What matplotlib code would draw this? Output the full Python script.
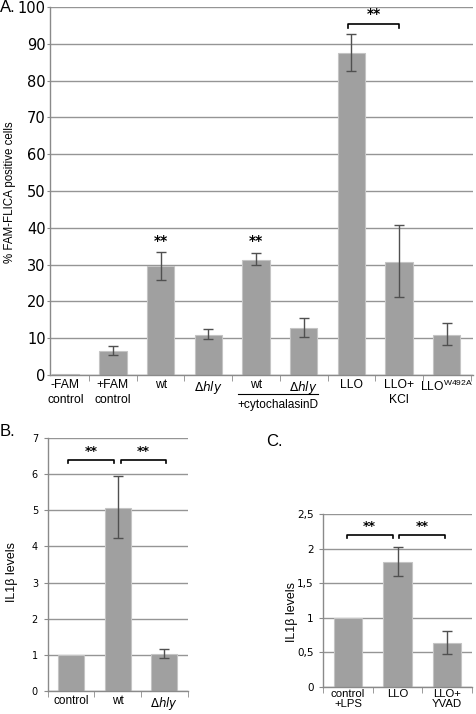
import matplotlib
matplotlib.use('Agg')
import matplotlib.pyplot as plt

# ---- data ----
a_labels = ['-FAM\ncontrol', '+FAM\ncontrol', 'wt', r'$\Delta\mathit{hly}$', 'wt',
            r'$\Delta\mathit{hly}$', 'LLO', 'LLO+\nKCl', r'LLO$^{\mathregular{W492A}}$']
a_values = [0.35, 6.5, 29.5, 11.0, 31.3, 12.7, 87.5, 30.7, 10.9]
a_err_lo = [0.0, 1.1, 3.7, 1.2, 1.5, 2.5, 4.8, 9.5, 2.8]
a_err_hi = [0.0, 1.4, 4.0, 1.5, 1.9, 2.8, 5.1, 10.0, 3.2]

b_labels = ['control', 'wt', r'$\Delta\mathit{hly}$']
b_values = [1.0, 5.06, 1.01]
b_err_lo = [0.0, 0.83, 0.11]
b_err_hi = [0.0, 0.89, 0.16]

c_labels = ['control\n+LPS', 'LLO', 'LLO+\nYVAD']
c_values = [1.0, 1.81, 0.64]
c_err_lo = [0.0, 0.2, 0.17]
c_err_hi = [0.0, 0.21, 0.17]
c_ticklabels = ['0', '0,5', '1', '1,5', '2', '2,5']

BAR = '#a0a0a0'
EDGE = '#c4c4c4'
GRID = '#959595'
ERR = '#505050'
SANS = 'Liberation Sans'


def style_axes(ax, n, ymax, tick_fs, ylen, ypad):
    ax.set_xlim(-0.5, n - 0.5)
    ax.set_ylim(0, ymax)
    ax.set_axisbelow(True)
    ax.yaxis.grid(True, color=GRID, lw=1)
    for s in ['top', 'right']:
        ax.spines[s].set_visible(False)
    for s in ['left', 'bottom']:
        ax.spines[s].set_color('#8a8a8a')
        ax.spines[s].set_linewidth(1)
    ax.set_xticks([i + 0.5 for i in range(-1, n)], minor=True)
    ax.tick_params(axis='x', which='minor', length=4, color='#8a8a8a', direction='out')
    ax.tick_params(axis='x', which='major', length=0, pad=3)
    ax.tick_params(axis='y', length=ylen, color='#8a8a8a', labelsize=tick_fs, pad=ypad)


def bracket(ax, x0, x1, y, h, text, fs):
    ax.plot([x0, x0, x1, x1], [y - h, y, y, y - h], color='black', lw=1.2, clip_on=False)
    ax.text((x0 + x1) / 2, y + h * 0.6, text, ha='center', va='bottom', fontsize=fs,
            fontweight='bold', clip_on=False)


fig = plt.figure(figsize=(4.76, 7.14), dpi=100)

# ---- panel A ----
axA = fig.add_axes([50 / 476, 1 - 375 / 714, (473 - 50) / 476, 368 / 714])
xa = list(range(len(a_values)))
axA.bar(xa, a_values, width=0.57, color=BAR, edgecolor=EDGE, lw=0.8)
axA.errorbar(xa[1:], a_values[1:], yerr=[a_err_lo[1:], a_err_hi[1:]], fmt='none',
             ecolor=ERR, elinewidth=1, capsize=3.5, capthick=1)
style_axes(axA, len(a_values), 100, 10.5, 2, 1)
axA.set_xlim(-0.32, 8.55)
axA.set_yticks(range(0, 101, 10))
axA.set_xticks(xa)
axA.set_xticklabels(a_labels, fontsize=8.7, family=SANS, linespacing=1.3)
fig.text(10 / 476, 1 - 192 / 714, '% FAM-FLICA positive cells', rotation=90,
         fontsize=8.3, family=SANS, ha='center', va='center')
for i in [2, 4]:
    axA.text(i, 34.5, '**', ha='center', va='bottom', fontsize=10, fontweight='bold')
bracket(axA, 5.93, 7.0, 95.4, 1.2, '**', 10)
axA.plot([3.63, 5.29], [-5.2, -5.2], color='black', lw=0.8, clip_on=False)
axA.text(4.46, -6.6, '+cytochalasinD', ha='center', va='top', fontsize=8.6, family=SANS)
fig.text(0.0, 1 - 7 / 714, 'A.', fontsize=12, family=SANS, va='center')

# ---- panel B ----
axB = fig.add_axes([47.7 / 476, 1 - 690.7 / 714, 140 / 476, 252.4 / 714])
xb = list(range(len(b_values)))
axB.bar(xb, b_values, width=0.56, color=BAR, edgecolor=EDGE, lw=0.8)
axB.errorbar(xb[1:], b_values[1:], yerr=[b_err_lo[1:], b_err_hi[1:]], fmt='none',
             ecolor=ERR, elinewidth=1, capsize=3.5, capthick=1)
style_axes(axB, len(b_values), 7, 7, 3, 4)
axB.set_yticks(range(0, 8))
axB.set_xticks(xb)
axB.set_xticklabels(b_labels, fontsize=8.5, family=SANS)
fig.text(12 / 476, 1 - 572 / 714, 'IL1β levels', rotation=90,
         fontsize=9, family=SANS, ha='center', va='center')
bracket(axB, -0.07, 0.92, 6.4, 0.09, '**', 9)
bracket(axB, 1.06, 2.03, 6.4, 0.09, '**', 9)
fig.text(0.0, 1 - 431 / 714, 'B.', fontsize=12, family=SANS, va='center')

# ---- panel C ----
axC = fig.add_axes([323.3 / 476, 1 - 686.7 / 714, 148.4 / 476, 172.4 / 714])
xc = list(range(len(c_values)))
axC.bar(xc, c_values, width=0.57, color=BAR, edgecolor=EDGE, lw=0.8)
axC.errorbar(xc[1:], c_values[1:], yerr=[c_err_lo[1:], c_err_hi[1:]], fmt='none',
             ecolor=ERR, elinewidth=1, capsize=3.5, capthick=1)
style_axes(axC, len(c_values), 2.5, 7.5, 3, 4)
axC.tick_params(axis='x', which='major', pad=1.5)
axC.set_yticks([0, 0.5, 1, 1.5, 2, 2.5])
axC.set_yticklabels(c_ticklabels)
axC.set_xticks(xc)
axC.set_xticklabels(c_labels, fontsize=8.2, family=SANS, linespacing=1.0)
fig.text(292 / 476, 1 - 612 / 714, 'IL1β levels', rotation=90,
         fontsize=9, family=SANS, ha='center', va='center')
bracket(axC, -0.03, 0.9, 2.2, 0.045, '**', 9)
bracket(axC, 1.04, 1.96, 2.2, 0.045, '**', 9)
fig.text(266 / 476, 1 - 442 / 714, 'C.', fontsize=12, family=SANS, va='center')

fig.savefig('out.png', dpi=100)
